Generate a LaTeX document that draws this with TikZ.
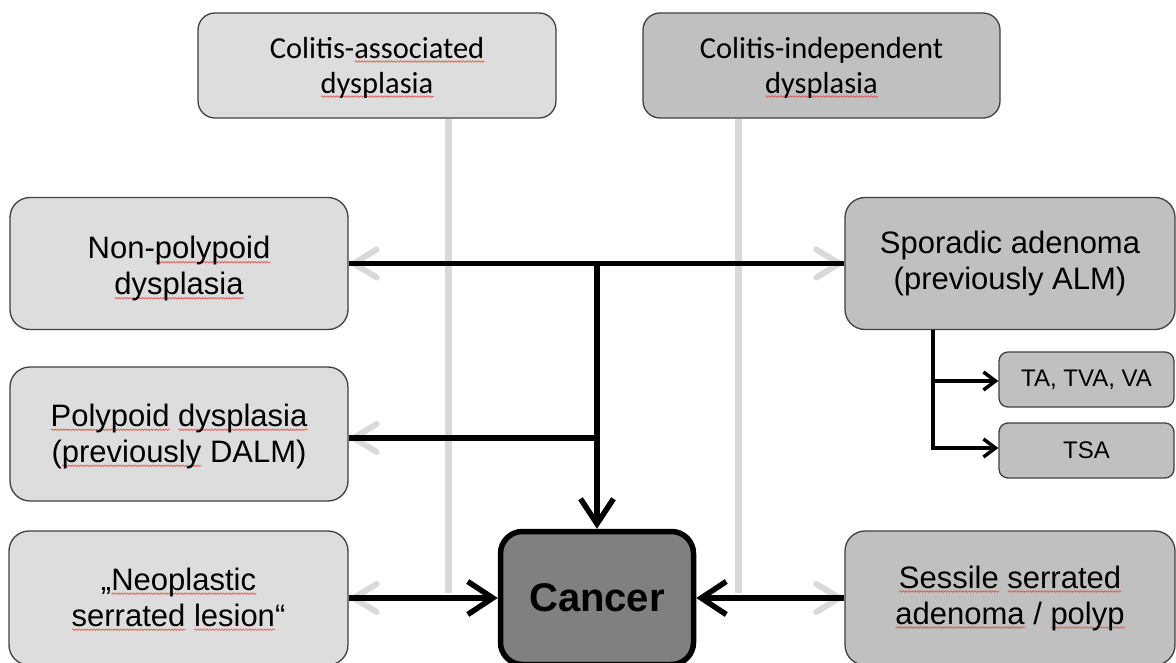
\documentclass[tikz,border=0pt]{standalone}
\usepackage{fontspec}
\setmainfont{Liberation Sans}
\newfontfamily\calfont{Carlito}
\usetikzlibrary{arrows.meta,decorations.pathmorphing}
\definecolor{lightbox}{HTML}{DDDDDD}
\definecolor{darkbox}{HTML}{C0C0C0}
\definecolor{cancerfill}{HTML}{808080}
\definecolor{ghost}{HTML}{D9D9D9}
\definecolor{sqred}{HTML}{E05050}
\definecolor{boxline}{HTML}{404040}
\newsavebox\sqbox
\newdimen\sqw
\newcommand\sq[1]{\sbox\sqbox{#1}\sqw=\wd\sqbox\leavevmode\rlap{\tikz[baseline=0pt,sharp corners,x=1pt,y=1pt]\draw[sqred,line width=0.6pt,sharp corners,decorate,decoration={snake,amplitude=0.8pt,segment length=3pt}] (0pt,-3.5pt)--(\sqw,-3.5pt);}\usebox\sqbox}
\tikzset{
  box/.style={draw=boxline, line width=1.3pt, rounded corners=20pt, align=center, inner sep=0pt, text=black},
  arial/.style={font={\fontsize{31}{36}\selectfont}},
  calibri/.style={font={\calfont\fontsize{30.5}{35}\selectfont}},
  smallfont/.style={font={\fontsize{24}{27}\selectfont}},
  blackline/.style={line width=5.5pt},
  arr/.style={line width=5.5pt, -{Straight Barb[length=25pt,width=33pt]}},
  smallarr/.style={line width=3.5pt, -{Straight Barb[length=12pt,width=18pt]}},
  grayline/.style={draw=ghost, line width=7pt},
  ghostc/.style={draw=ghost, line width=6pt, line cap=round, line join=round}
}
\begin{document}
\begin{tikzpicture}[x=1pt,y=-1pt]
\useasboundingbox (0,0) rectangle (1176,663);
\fill[white] (0,0) rectangle (1176,663);
\clip (0,0) rectangle (1176,663);

% coordinates
\coordinate (j1) at (597,263.5);
\coordinate (j2) at (597,438);
\coordinate (g1) at (448,593);
\coordinate (g2) at (738,593);
\coordinate (b2) at (933,381);
\coordinate (b3) at (933,448);

% boxes
\node[box, calibri, rounded corners=17pt, fill=lightbox, minimum width=358pt, minimum height=105pt] (ca) at (377,65.5) {Colitis-\sq{associated}\rule{0pt}{25pt}\\\sq{dysplasia}};
\node[box, calibri, rounded corners=17pt, fill=darkbox, minimum width=357pt, minimum height=105pt] (ci) at (821.5,65.5) {Colitis-independent\rule{0pt}{25pt}\\\sq{dysplasia}};
\node[box, arial, fill=lightbox, minimum width=338pt, minimum height=132pt] (np) at (179,263.5) {Non-\sq{polypoid}\rule{0pt}{33pt}\\\sq{dysplasia}};
\node[box, arial, fill=darkbox, minimum width=330pt, minimum height=132pt] (sp) at (1010,263.5) {Sporadic adenoma\\(previously ALM)};
\node[box, arial, fill=lightbox, minimum width=338pt, minimum height=134pt] (pd) at (179,434) {\sq{Polypoid} \sq{dysplasia}\rule{0pt}{27pt}\\(\sq{previously} DALM)};
\node[box, smallfont, rounded corners=9pt, fill=darkbox, minimum width=175pt, minimum height=55pt] (ta) at (1086.5,379.5) {TA, TVA, VA};
\node[box, smallfont, rounded corners=9pt, fill=darkbox, minimum width=175pt, minimum height=55pt] (tsa) at (1086.5,450.5) {TSA};
\node[box, arial, fill=lightbox, minimum width=339pt, minimum height=134pt] (ns) at (178.5,598) {„\sq{Neoplastic}\rule{0pt}{25pt}\\\sq{serrated} \sq{lesion}“};
\node[box, arial, fill=darkbox, minimum width=330pt, minimum height=134pt] (ss) at (1010,598) {\sq{Sessile} \sq{serrated}\\\sq{adenoma} / \sq{polyp}};
\node[box, draw=black, line width=5.5pt, rounded corners=22pt, fill=cancerfill, minimum width=193pt, minimum height=133pt, font={\fontsize{40}{44}\selectfont\bfseries}] (cancer) at (597,598) {Cancer};

% gray lines
\draw[grayline] (ca.south -| g1) -- (g1);
\draw[grayline] (ci.south -| g2) -- (g2);

% ghost chevrons
\draw[ghostc] ([xshift=28pt,yshift=14pt]np.east) -- ([xshift=5pt]np.east) -- ([xshift=28pt,yshift=-14pt]np.east);
\draw[ghostc] ([xshift=28pt,yshift=14pt]pd.east |- j2) -- ([xshift=5pt]pd.east |- j2) -- ([xshift=28pt,yshift=-14pt]pd.east |- j2);
\draw[ghostc] ([xshift=28pt,yshift=14pt]ns.east) -- ([xshift=5pt]ns.east) -- ([xshift=28pt,yshift=-14pt]ns.east);
\draw[ghostc] ([xshift=-28pt,yshift=14pt]sp.west) -- ([xshift=-5pt]sp.west) -- ([xshift=-28pt,yshift=-14pt]sp.west);
\draw[ghostc] ([xshift=-28pt,yshift=14pt]ss.west) -- ([xshift=-5pt]ss.west) -- ([xshift=-28pt,yshift=-14pt]ss.west);

% black connectors
\draw[blackline] (np.east) -- (sp.west);
\draw[blackline] (pd.east |- j2) -- (j2);
\draw[arr] (j1) -- (cancer.north);
\draw[arr] (ns.east) -- (cancer.west);
\draw[arr] (ss.west) -- (cancer.east);

% sporadic branch
\draw[line width=3.5pt] (sp.south -| b2) -- (b3);
\draw[smallarr] (b2) -- (ta.west |- b2);
\draw[smallarr] ([xshift=-1.75pt]b3) -- (tsa.west |- b3);
\end{tikzpicture}
\end{document}
